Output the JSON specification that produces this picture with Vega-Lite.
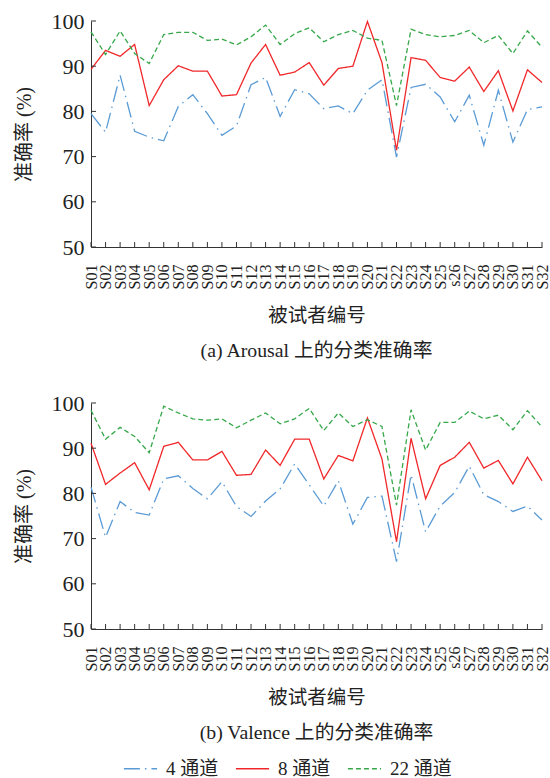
{
  "$schema": "https://vega.github.io/schema/vega-lite/v6.json",
  "padding": {"left": 14, "top": 10, "right": 2, "bottom": 0},
  "background": "white",
  "datasets": {
    "acc": [
      {"p":"a","s":"S01","c":"4 通道","v":79.5},{"p":"a","s":"S02","c":"4 通道","v":75.4},{"p":"a","s":"S03","c":"4 通道","v":88.0},{"p":"a","s":"S04","c":"4 通道","v":75.6},{"p":"a","s":"S05","c":"4 通道","v":74.3},{"p":"a","s":"S06","c":"4 通道","v":73.5},{"p":"a","s":"S07","c":"4 通道","v":81.1},{"p":"a","s":"S08","c":"4 通道","v":83.7},{"p":"a","s":"S09","c":"4 通道","v":79.5},{"p":"a","s":"S10","c":"4 通道","v":74.7},{"p":"a","s":"S11","c":"4 通道","v":76.8},{"p":"a","s":"S12","c":"4 通道","v":85.9},{"p":"a","s":"S13","c":"4 通道","v":87.5},{"p":"a","s":"S14","c":"4 通道","v":78.9},{"p":"a","s":"S15","c":"4 通道","v":84.8},{"p":"a","s":"S16","c":"4 通道","v":83.9},{"p":"a","s":"S17","c":"4 通道","v":80.6},{"p":"a","s":"S18","c":"4 通道","v":81.2},{"p":"a","s":"S19","c":"4 通道","v":79.5},{"p":"a","s":"S20","c":"4 通道","v":84.7},{"p":"a","s":"S21","c":"4 通道","v":87.0},{"p":"a","s":"S22","c":"4 通道","v":69.9},{"p":"a","s":"S23","c":"4 通道","v":85.3},{"p":"a","s":"S24","c":"4 通道","v":86.0},{"p":"a","s":"S25","c":"4 通道","v":83.2},{"p":"a","s":"s26","c":"4 通道","v":77.7},{"p":"a","s":"S27","c":"4 通道","v":83.6},{"p":"a","s":"S28","c":"4 通道","v":72.5},{"p":"a","s":"S29","c":"4 通道","v":84.7},{"p":"a","s":"S30","c":"4 通道","v":73.2},{"p":"a","s":"S31","c":"4 通道","v":80.4},{"p":"a","s":"S32","c":"4 通道","v":81.0},
      {"p":"a","s":"S01","c":"8 通道","v":89.3},{"p":"a","s":"S02","c":"8 通道","v":93.5},{"p":"a","s":"S03","c":"8 通道","v":92.2},{"p":"a","s":"S04","c":"8 通道","v":94.8},{"p":"a","s":"S05","c":"8 通道","v":81.3},{"p":"a","s":"S06","c":"8 通道","v":87.0},{"p":"a","s":"S07","c":"8 通道","v":90.1},{"p":"a","s":"S08","c":"8 通道","v":88.9},{"p":"a","s":"S09","c":"8 通道","v":88.9},{"p":"a","s":"S10","c":"8 通道","v":83.4},{"p":"a","s":"S11","c":"8 通道","v":83.7},{"p":"a","s":"S12","c":"8 通道","v":90.7},{"p":"a","s":"S13","c":"8 通道","v":94.8},{"p":"a","s":"S14","c":"8 通道","v":88.0},{"p":"a","s":"S15","c":"8 通道","v":88.7},{"p":"a","s":"S16","c":"8 通道","v":90.8},{"p":"a","s":"S17","c":"8 通道","v":85.8},{"p":"a","s":"S18","c":"8 通道","v":89.5},{"p":"a","s":"S19","c":"8 通道","v":90.0},{"p":"a","s":"S20","c":"8 通道","v":99.9},{"p":"a","s":"S21","c":"8 通道","v":90.8},{"p":"a","s":"S22","c":"8 通道","v":71.4},{"p":"a","s":"S23","c":"8 通道","v":91.9},{"p":"a","s":"S24","c":"8 通道","v":91.3},{"p":"a","s":"S25","c":"8 通道","v":87.5},{"p":"a","s":"s26","c":"8 通道","v":86.7},{"p":"a","s":"S27","c":"8 通道","v":89.8},{"p":"a","s":"S28","c":"8 通道","v":84.4},{"p":"a","s":"S29","c":"8 通道","v":89.0},{"p":"a","s":"S30","c":"8 通道","v":80.1},{"p":"a","s":"S31","c":"8 通道","v":89.2},{"p":"a","s":"S32","c":"8 通道","v":86.4},
      {"p":"a","s":"S01","c":"22 通道","v":97.6},{"p":"a","s":"S02","c":"22 通道","v":92.6},{"p":"a","s":"S03","c":"22 通道","v":97.8},{"p":"a","s":"S04","c":"22 通道","v":92.8},{"p":"a","s":"S05","c":"22 通道","v":90.6},{"p":"a","s":"S06","c":"22 通道","v":97.0},{"p":"a","s":"S07","c":"22 通道","v":97.5},{"p":"a","s":"S08","c":"22 通道","v":97.5},{"p":"a","s":"S09","c":"22 通道","v":95.7},{"p":"a","s":"S10","c":"22 通道","v":96.0},{"p":"a","s":"S11","c":"22 通道","v":94.7},{"p":"a","s":"S12","c":"22 通道","v":96.5},{"p":"a","s":"S13","c":"22 通道","v":99.1},{"p":"a","s":"S14","c":"22 通道","v":94.8},{"p":"a","s":"S15","c":"22 通道","v":97.2},{"p":"a","s":"S16","c":"22 通道","v":98.5},{"p":"a","s":"S17","c":"22 通道","v":95.4},{"p":"a","s":"S18","c":"22 通道","v":97.0},{"p":"a","s":"S19","c":"22 通道","v":97.9},{"p":"a","s":"S20","c":"22 通道","v":96.2},{"p":"a","s":"S21","c":"22 通道","v":95.7},{"p":"a","s":"S22","c":"22 通道","v":81.3},{"p":"a","s":"S23","c":"22 通道","v":98.2},{"p":"a","s":"S24","c":"22 通道","v":97.0},{"p":"a","s":"S25","c":"22 通道","v":96.5},{"p":"a","s":"s26","c":"22 通道","v":96.8},{"p":"a","s":"S27","c":"22 通道","v":97.9},{"p":"a","s":"S28","c":"22 通道","v":95.2},{"p":"a","s":"S29","c":"22 通道","v":96.8},{"p":"a","s":"S30","c":"22 通道","v":92.8},{"p":"a","s":"S31","c":"22 通道","v":97.8},{"p":"a","s":"S32","c":"22 通道","v":94.2},
      {"p":"b","s":"S01","c":"4 通道","v":81.4},{"p":"b","s":"S02","c":"4 通道","v":70.3},{"p":"b","s":"S03","c":"4 通道","v":78.2},{"p":"b","s":"S04","c":"4 通道","v":75.8},{"p":"b","s":"S05","c":"4 通道","v":75.2},{"p":"b","s":"S06","c":"4 通道","v":83.2},{"p":"b","s":"S07","c":"4 通道","v":83.9},{"p":"b","s":"S08","c":"4 通道","v":81.1},{"p":"b","s":"S09","c":"4 通道","v":78.8},{"p":"b","s":"S10","c":"4 通道","v":82.6},{"p":"b","s":"S11","c":"4 通道","v":77.1},{"p":"b","s":"S12","c":"4 通道","v":74.9},{"p":"b","s":"S13","c":"4 通道","v":78.3},{"p":"b","s":"S14","c":"4 通道","v":81.0},{"p":"b","s":"S15","c":"4 通道","v":86.5},{"p":"b","s":"S16","c":"4 通道","v":81.9},{"p":"b","s":"S17","c":"4 通道","v":77.2},{"p":"b","s":"S18","c":"4 通道","v":82.8},{"p":"b","s":"S19","c":"4 通道","v":73.2},{"p":"b","s":"S20","c":"4 通道","v":79.1},{"p":"b","s":"S21","c":"4 通道","v":79.4},{"p":"b","s":"S22","c":"4 通道","v":64.9},{"p":"b","s":"S23","c":"4 通道","v":84.1},{"p":"b","s":"S24","c":"4 通道","v":71.5},{"p":"b","s":"S25","c":"4 通道","v":77.2},{"p":"b","s":"s26","c":"4 通道","v":80.2},{"p":"b","s":"S27","c":"4 通道","v":86.0},{"p":"b","s":"S28","c":"4 通道","v":79.7},{"p":"b","s":"S29","c":"4 通道","v":78.2},{"p":"b","s":"S30","c":"4 通道","v":76.0},{"p":"b","s":"S31","c":"4 通道","v":77.2},{"p":"b","s":"S32","c":"4 通道","v":74.1},
      {"p":"b","s":"S01","c":"8 通道","v":91.1},{"p":"b","s":"S02","c":"8 通道","v":82.0},{"p":"b","s":"S03","c":"8 通道","v":84.5},{"p":"b","s":"S04","c":"8 通道","v":86.8},{"p":"b","s":"S05","c":"8 通道","v":80.8},{"p":"b","s":"S06","c":"8 通道","v":90.4},{"p":"b","s":"S07","c":"8 通道","v":91.3},{"p":"b","s":"S08","c":"8 通道","v":87.4},{"p":"b","s":"S09","c":"8 通道","v":87.4},{"p":"b","s":"S10","c":"8 通道","v":89.3},{"p":"b","s":"S11","c":"8 通道","v":84.0},{"p":"b","s":"S12","c":"8 通道","v":84.2},{"p":"b","s":"S13","c":"8 通道","v":89.6},{"p":"b","s":"S14","c":"8 通道","v":86.2},{"p":"b","s":"S15","c":"8 通道","v":92.0},{"p":"b","s":"S16","c":"8 通道","v":92.0},{"p":"b","s":"S17","c":"8 通道","v":83.2},{"p":"b","s":"S18","c":"8 通道","v":88.4},{"p":"b","s":"S19","c":"8 通道","v":87.2},{"p":"b","s":"S20","c":"8 通道","v":96.7},{"p":"b","s":"S21","c":"8 通道","v":87.6},{"p":"b","s":"S22","c":"8 通道","v":69.3},{"p":"b","s":"S23","c":"8 通道","v":92.2},{"p":"b","s":"S24","c":"8 通道","v":78.8},{"p":"b","s":"S25","c":"8 通道","v":86.2},{"p":"b","s":"s26","c":"8 通道","v":88.0},{"p":"b","s":"S27","c":"8 通道","v":91.3},{"p":"b","s":"S28","c":"8 通道","v":85.6},{"p":"b","s":"S29","c":"8 通道","v":87.3},{"p":"b","s":"S30","c":"8 通道","v":82.1},{"p":"b","s":"S31","c":"8 通道","v":88.0},{"p":"b","s":"S32","c":"8 通道","v":82.8},
      {"p":"b","s":"S01","c":"22 通道","v":98.4},{"p":"b","s":"S02","c":"22 通道","v":92.0},{"p":"b","s":"S03","c":"22 通道","v":94.6},{"p":"b","s":"S04","c":"22 通道","v":92.6},{"p":"b","s":"S05","c":"22 通道","v":89.0},{"p":"b","s":"S06","c":"22 通道","v":99.3},{"p":"b","s":"S07","c":"22 通道","v":97.8},{"p":"b","s":"S08","c":"22 通道","v":96.5},{"p":"b","s":"S09","c":"22 通道","v":96.2},{"p":"b","s":"S10","c":"22 通道","v":96.5},{"p":"b","s":"S11","c":"22 通道","v":94.5},{"p":"b","s":"S12","c":"22 通道","v":96.2},{"p":"b","s":"S13","c":"22 通道","v":97.8},{"p":"b","s":"S14","c":"22 通道","v":95.4},{"p":"b","s":"S15","c":"22 通道","v":96.5},{"p":"b","s":"S16","c":"22 通道","v":98.8},{"p":"b","s":"S17","c":"22 通道","v":93.9},{"p":"b","s":"S18","c":"22 通道","v":97.8},{"p":"b","s":"S19","c":"22 通道","v":94.8},{"p":"b","s":"S20","c":"22 通道","v":96.3},{"p":"b","s":"S21","c":"22 通道","v":94.8},{"p":"b","s":"S22","c":"22 通道","v":77.4},{"p":"b","s":"S23","c":"22 通道","v":98.5},{"p":"b","s":"S24","c":"22 通道","v":89.6},{"p":"b","s":"S25","c":"22 通道","v":95.7},{"p":"b","s":"s26","c":"22 通道","v":95.7},{"p":"b","s":"S27","c":"22 通道","v":98.2},{"p":"b","s":"S28","c":"22 通道","v":96.5},{"p":"b","s":"S29","c":"22 通道","v":97.3},{"p":"b","s":"S30","c":"22 通道","v":94.1},{"p":"b","s":"S31","c":"22 通道","v":98.3},{"p":"b","s":"S32","c":"22 通道","v":94.7}
    ],
    "yticks": [{"t":50},{"t":60},{"t":70},{"t":80},{"t":90},{"t":100}]
  },
  "spacing": 30,
  "vconcat": [
    {
      "width": 451,
      "height": 226,
      "title": {"text": "(a) Arousal 上的分类准确率", "orient": "bottom", "offset": 16},
      "layer": [
        {
          "data": {"name": "acc"},
          "transform": [{"filter": "datum.p === 'a'"}],
          "mark": {"type": "line", "strokeWidth": 1.3},
          "encoding": {
            "x": {"field": "s", "type": "ordinal", "sort": null, "scale": {"type": "point", "padding": 0}, "axis": {"title": "被试者编号", "labelAngle": -90}},
            "y": {"field": "v", "type": "quantitative", "scale": {"domain": [50, 100]}, "axis": {"title": "准确率 (%)", "values": [50, 60, 70, 80, 90, 100]}},
            "color": {"field": "c", "type": "nominal", "scale": {"domain": ["4 通道", "8 通道", "22 通道"], "range": ["#5B9BD5", "#F0282A", "#36A84A"]}, "legend": {"orient": "none", "direction": "horizontal", "legendX": 32, "legendY": 730, "title": null}},
            "strokeDash": {"field": "c", "type": "nominal", "scale": {"domain": ["4 通道", "8 通道", "22 通道"], "range": [[16, 5, 1.5, 5], [1, 0], [5, 3]]}, "legend": {"orient": "none", "direction": "horizontal", "legendX": 32, "legendY": 730, "title": null}}
          }
        },
        {
          "data": {"name": "acc"},
          "transform": [{"filter": "datum.p === 'a' && datum.c === '4 通道'"}],
          "mark": {"type": "rule", "color": "#333", "strokeWidth": 1, "y2Offset": -5},
          "encoding": {
            "x": {"field": "s", "type": "ordinal", "sort": null, "axis": {"title": "被试者编号", "labelAngle": -90}},
            "y": {"datum": 50, "type": "quantitative", "axis": {"title": "准确率 (%)", "values": [50, 60, 70, 80, 90, 100]}},
            "y2": {"datum": 50}
          }
        },
        {
          "data": {"name": "yticks"},
          "mark": {"type": "rule", "color": "#333", "strokeWidth": 1, "x2Offset": 5},
          "encoding": {
            "y": {"field": "t", "type": "quantitative", "axis": {"title": "准确率 (%)", "values": [50, 60, 70, 80, 90, 100]}},
            "x": {"datum": "S01", "type": "ordinal", "axis": {"title": "被试者编号", "labelAngle": -90}},
            "x2": {"datum": "S01"}
          }
        }
      ]
    },
    {
      "width": 451,
      "height": 226,
      "title": {"text": "(b) Valence 上的分类准确率", "orient": "bottom", "offset": 16},
      "layer": [
        {
          "data": {"name": "acc"},
          "transform": [{"filter": "datum.p === 'b'"}],
          "mark": {"type": "line", "strokeWidth": 1.3},
          "encoding": {
            "x": {"field": "s", "type": "ordinal", "sort": null, "scale": {"type": "point", "padding": 0}, "axis": {"title": "被试者编号", "labelAngle": -90}},
            "y": {"field": "v", "type": "quantitative", "scale": {"domain": [50, 100]}, "axis": {"title": "准确率 (%)", "values": [50, 60, 70, 80, 90, 100]}},
            "color": {"field": "c", "type": "nominal", "scale": {"domain": ["4 通道", "8 通道", "22 通道"], "range": ["#5B9BD5", "#F0282A", "#36A84A"]}, "legend": {"orient": "none", "direction": "horizontal", "legendX": 32, "legendY": 730, "title": null}},
            "strokeDash": {"field": "c", "type": "nominal", "scale": {"domain": ["4 通道", "8 通道", "22 通道"], "range": [[16, 5, 1.5, 5], [1, 0], [5, 3]]}, "legend": {"orient": "none", "direction": "horizontal", "legendX": 32, "legendY": 730, "title": null}}
          }
        },
        {
          "data": {"name": "acc"},
          "transform": [{"filter": "datum.p === 'b' && datum.c === '4 通道'"}],
          "mark": {"type": "rule", "color": "#333", "strokeWidth": 1, "y2Offset": -5},
          "encoding": {
            "x": {"field": "s", "type": "ordinal", "sort": null, "axis": {"title": "被试者编号", "labelAngle": -90}},
            "y": {"datum": 50, "type": "quantitative", "axis": {"title": "准确率 (%)", "values": [50, 60, 70, 80, 90, 100]}},
            "y2": {"datum": 50}
          }
        },
        {
          "data": {"name": "yticks"},
          "mark": {"type": "rule", "color": "#333", "strokeWidth": 1, "x2Offset": 5},
          "encoding": {
            "y": {"field": "t", "type": "quantitative", "axis": {"title": "准确率 (%)", "values": [50, 60, 70, 80, 90, 100]}},
            "x": {"datum": "S01", "type": "ordinal", "axis": {"title": "被试者编号", "labelAngle": -90}},
            "x2": {"datum": "S01"}
          }
        }
      ]
    }
  ],
  "config": {
    "font": "Liberation Serif, Noto Sans CJK SC",
    "view": {"stroke": null},
    "axis": {
      "grid": false,
      "ticks": false,
      "domainColor": "#333",
      "labelColor": "#222",
      "titleColor": "#222",
      "labelFont": "Liberation Serif, Noto Sans CJK SC",
      "titleFont": "Liberation Serif, Noto Sans CJK SC",
      "titleFontWeight": "normal"
    },
    "axisX": {"labelFontSize": 16, "titleFontSize": 19.5, "labelPadding": 17, "titlePadding": 18},
    "axisY": {"labelFontSize": 22, "titleFontSize": 20, "labelPadding": 7, "titlePadding": 17},
    "title": {"fontSize": 19.8, "fontWeight": "normal", "color": "#222", "font": "Liberation Serif, Noto Sans CJK SC"},
    "legend": {
      "symbolType": "stroke",
      "symbolSize": 1100,
      "symbolStrokeWidth": 1.3,
      "labelFontSize": 19,
      "labelFont": "Liberation Serif, Noto Sans CJK SC",
      "labelColor": "#222",
      "columnPadding": 14,
      "labelOffset": 8
    }
  }
}
